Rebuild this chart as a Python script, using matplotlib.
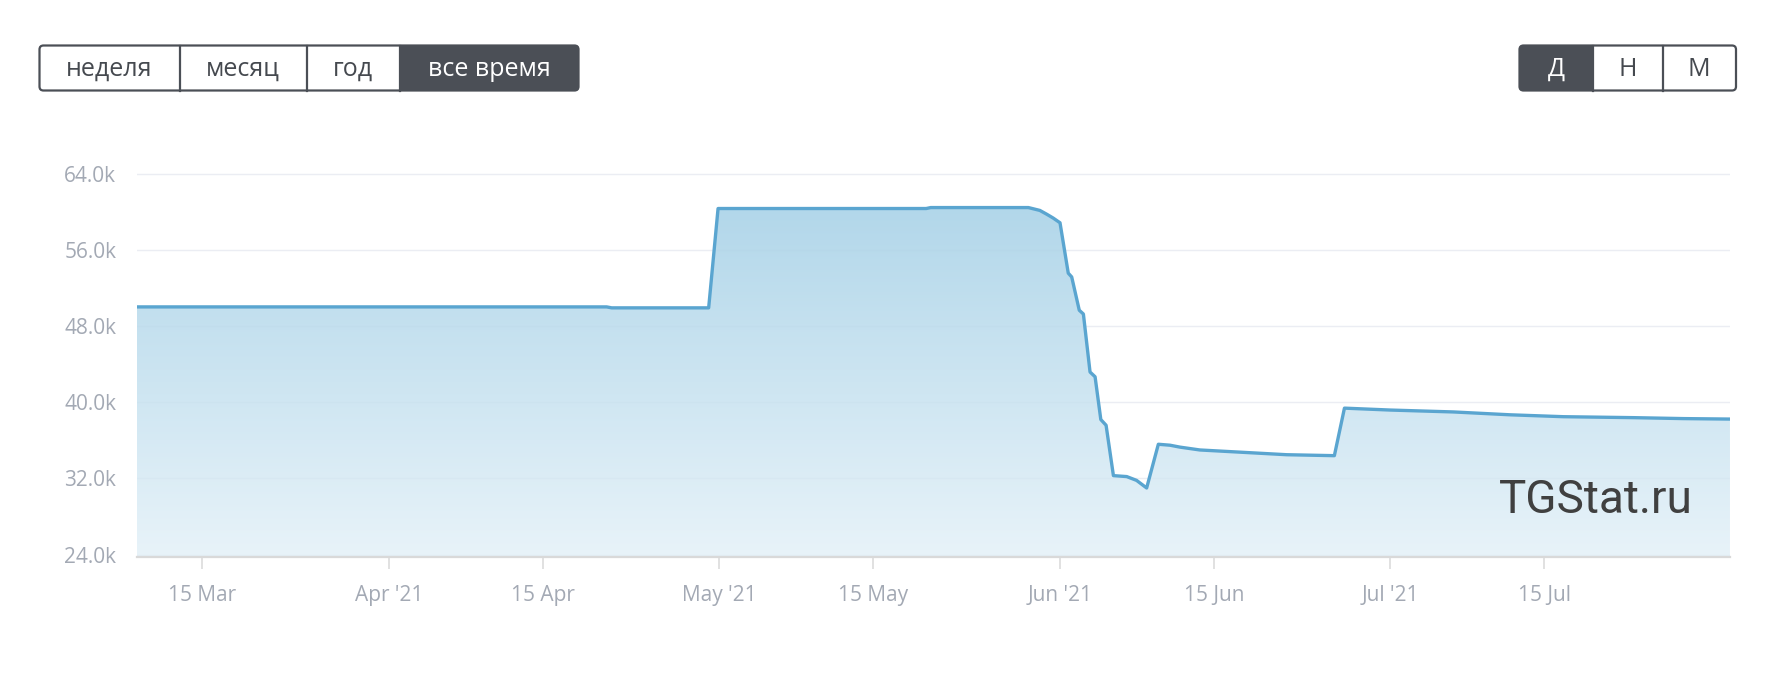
import numpy as np
import pandas as pd
import matplotlib
matplotlib.use("Agg")
import matplotlib.pyplot as plt
import matplotlib.dates as mdates
from matplotlib.colors import LinearSegmentedColormap
from matplotlib.patches import Polygon, FancyBboxPatch, Rectangle

# ---------------- data ----------------
dates = [
    "2021-03-09 02:00", "2021-04-20 19:00", "2021-04-21 06:00", "2021-04-30 01:30",
    "2021-04-30 22:00", "2021-05-19 20:00", "2021-05-20 06:00", "2021-05-29 03:00",
    "2021-05-30 04:00", "2021-05-30 19:00", "2021-05-31 09:00", "2021-06-01 00:00",
    "2021-06-01 18:00", "2021-06-02 01:30", "2021-06-02 18:00", "2021-06-03 03:00",
    "2021-06-03 17:30", "2021-06-04 04:30", "2021-06-04 17:00", "2021-06-05 04:30",
    "2021-06-05 20:30", "2021-06-07 01:30", "2021-06-07 23:00", "2021-06-08 21:00",
    "2021-06-09 22:30", "2021-06-11 00:00", "2021-06-11 21:30", "2021-06-13 17:00",
    "2021-06-21 14:30", "2021-06-25 22:30", "2021-06-26 20:30", "2021-07-01 00:00",
    "2021-07-06 18:00", "2021-07-11 21:30", "2021-07-16 18:00", "2021-07-23 02:30",
    "2021-07-27 16:00", "2021-07-31 21:30",
]
subscribers = [
    50050, 50050, 49950, 49950,
    60400, 60400, 60500, 60500,
    60200, 59800, 59400, 58900,
    53600, 53200, 49700, 49300,
    43200, 42700, 38200, 37600,
    32300, 32200, 31800, 31000,
    35600, 35500, 35300, 35000,
    34500, 34400, 39400, 39200,
    39000, 38700, 38500, 38400,
    38300, 38250,
]
x_tick_dates = ["2021-03-15", "2021-04-01", "2021-04-15", "2021-05-01", "2021-05-15",
                "2021-06-01", "2021-06-15", "2021-07-01", "2021-07-15"]
x_tick_labels = ["15 Mar", "Apr '21", "15 Apr", "May '21", "15 May",
                 "Jun '21", "15 Jun", "Jul '21", "15 Jul"]
y_ticks = [24000, 32000, 40000, 48000, 56000, 64000]
y_tick_labels = ["24.0k", "32.0k", "40.0k", "48.0k", "56.0k", "64.0k"]
range_buttons = ["неделя", "месяц", "год", "все время"]
period_buttons = ["Д", "Н", "М"]
watermark = "TGStat.ru"

# ---------------- style ----------------
W, H = 1778, 680
LINE = "#5aa5d0"
GRID = "#f1f1f6"
AXIS = "#d9d9d9"
LABEL = "#a3a9b4"
DARK = "#4b4f56"
FONT = ["Open Sans", "DejaVu Sans"]
plt.rcParams["font.family"] = FONT

fig = plt.figure(figsize=(W / 100, H / 100), dpi=100)
fig.patch.set_facecolor("white")

px_left, px_right, px_top, px_bottom = 137, 1730, 150, 557
ax = fig.add_axes([px_left / W, 1 - px_bottom / H,
                   (px_right - px_left) / W, (px_bottom - px_top) / H])

x = mdates.date2num(pd.to_datetime(dates).to_pydatetime())
y = np.array(subscribers, dtype=float)
ymin, ymax = 23740, 66556
x0 = mdates.date2num(pd.Timestamp("2021-03-09 02:24"))
x1 = mdates.date2num(pd.Timestamp("2021-07-31 21:36"))

# grid
for v in y_ticks:
    ax.axhline(v, color=GRID, lw=1.0, zorder=0.5)

# gradient fill
cmap = LinearSegmentedColormap.from_list("g", ["#e8f3f9", "#b2d7ea"])
grad = np.linspace(1, 0, 256).reshape(-1, 1)
im = ax.imshow(grad, aspect="auto", cmap=cmap, vmin=0, vmax=1, origin="upper",
               extent=[x0, x1, ymin, max(subscribers)], zorder=1, interpolation="bilinear")
verts = np.vstack([np.column_stack([x, y]), [[x[-1], ymin], [x[0], ymin]]])
clip = Polygon(verts, closed=True, transform=ax.transData, facecolor="none", edgecolor="none")
ax.add_patch(clip)
im.set_clip_path(clip)

# faint grid through fill
for v in y_ticks:
    ax.axhline(v, color=(0.6, 0.7, 0.8, 0.06), lw=1.0, zorder=1.5)

ax.plot(x, y, color=LINE, lw=2.4, solid_joinstyle="round", solid_capstyle="round", zorder=3)

ax.set_xlim(x0, x1)
ax.set_ylim(ymin, ymax)

for s in ["top", "right", "left"]:
    ax.spines[s].set_visible(False)
ax.spines["bottom"].set_color(AXIS)
ax.spines["bottom"].set_linewidth(1.6)
ax.spines["bottom"].set_zorder(4)

ax.set_xticks(mdates.date2num(pd.to_datetime(x_tick_dates).to_pydatetime()))
ax.set_xticklabels(x_tick_labels)
ax.set_yticks(y_ticks)
ax.set_yticklabels(y_tick_labels)
ax.tick_params(axis="x", colors=AXIS, length=8.5, width=1.1, pad=12, labelcolor=LABEL, labelsize=15)
ax.tick_params(axis="y", length=0, pad=15, labelcolor=LABEL, labelsize=15)

fig.text(1499 / W, 1 - 513 / H, watermark, ha="left", va="baseline",
         fontsize=33, color="#404040", family=["Roboto", "DejaVu Sans"], zorder=5)

# ---------------- buttons (pixel overlay) ----------------
ov = fig.add_axes([0, 0, 1, 1], facecolor="none")
ov.set_xlim(0, W)
ov.set_ylim(H, 0)
ov.axis("off")


def button_group(edges, top, bottom, labels, dark_index):
    left, right = edges[0], edges[-1]
    r = 4
    ov.add_patch(FancyBboxPatch((left, top), right - left, bottom - top,
                                boxstyle=f"round,pad=0,rounding_size={r}",
                                facecolor="white", edgecolor="none", zorder=1))
    a, b = edges[dark_index], edges[dark_index + 1]
    ov.add_patch(FancyBboxPatch((a, top), b - a, bottom - top,
                                boxstyle=f"round,pad=0,rounding_size={r}",
                                facecolor=DARK, edgecolor="none", zorder=2))
    if dark_index > 0:
        ov.add_patch(Rectangle((a, top), 2 * r, bottom - top, facecolor=DARK, edgecolor="none", zorder=2))
    if dark_index + 1 < len(edges) - 1:
        ov.add_patch(Rectangle((b - 2 * r, top), 2 * r, bottom - top, facecolor=DARK, edgecolor="none", zorder=2))
    ov.add_patch(FancyBboxPatch((left, top), right - left, bottom - top,
                                boxstyle=f"round,pad=0,rounding_size={r}",
                                facecolor="none", edgecolor=DARK, lw=1.6, zorder=3))
    for e in edges[1:-1]:
        ov.plot([e, e], [top, bottom], color=DARK, lw=1.6, zorder=3)
    for i, lab in enumerate(labels):
        cx = (edges[i] + edges[i + 1]) / 2
        ov.text(cx, (top + bottom) / 2 + 1, lab, ha="center", va="center", fontsize=18,
                color="white" if i == dark_index else "#45494f", zorder=4)


button_group([39.5, 179.5, 306.5, 399.5, 578.5], 45.5, 90.5, range_buttons, 3)
button_group([1519.5, 1592.5, 1662.5, 1736.0], 45.5, 90.5, period_buttons, 0)

fig.savefig("out.png", dpi=100, facecolor="white")
